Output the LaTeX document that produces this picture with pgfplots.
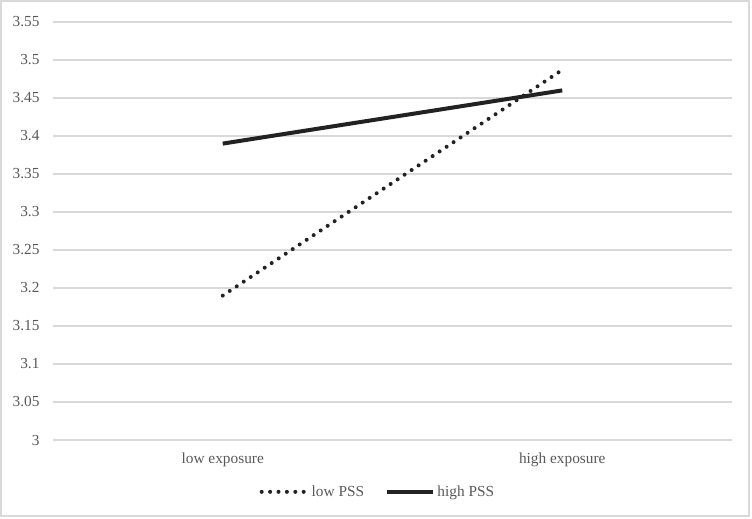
\documentclass[border=0pt]{standalone}
\usepackage{pgfplots}
\pgfplotsset{compat=1.18}
\usepackage{fontspec}
\setmainfont{Liberation Serif}
\definecolor{gridgray}{HTML}{D9D9D9}
\definecolor{tickgray}{HTML}{595959}
\definecolor{linedark}{HTML}{222222}
\begin{document}
\begin{tikzpicture}
\begin{axis}[
  at={(0pt,0pt)}, anchor=south west,
  scale only axis,
  width=509.25pt, height=313.5pt,
  xmin=-0.5, xmax=1.5,
  ymin=3, ymax=3.55,
  xtick={0,1},
  xticklabels={low exposure,high exposure},
  ytick={3,3.05,3.1,3.15,3.2,3.25,3.3,3.35,3.4,3.45,3.5,3.55},
  yticklabels={3,3.05,3.1,3.15,3.2,3.25,3.3,3.35,3.4,3.45,3.5,3.55},
  axis line style={draw=none},
  major tick length=0pt,
  ymajorgrids,
  grid style={color=gridgray, line width=1pt},
  tick label style={font=\fontsize{11.5}{13.8}\selectfont, text=tickgray},
  yticklabel style={anchor=east, xshift=-6.6pt},
  xticklabel style={anchor=north, yshift=-6pt},
  legend style={at={(0.479,-0.124)}, anchor=center, draw=none, fill=none,
    legend columns=2, font=\fontsize{11.5}{13.8}\selectfont, text=tickgray,
    /tikz/every even column/.append style={column sep=14pt}},
  legend image code/.code={\draw[#1] (0pt,0pt) -- (34pt,0pt);},
]
\addplot[color=linedark, line width=3pt, line cap=round, dash pattern=on 0pt off 6.3pt] coordinates {(0,3.19) (1,3.487)};
\addlegendentry{low PSS}
\addplot[color=linedark, line width=3pt] coordinates {(0,3.39) (1,3.46)};
\addlegendentry{high PSS}
\end{axis}
\draw[color=gridgray, line width=1pt] (-52*0.75pt,-76*0.75pt) rectangle (696*0.75pt,439*0.75pt);
\useasboundingbox (-53*0.75pt,-78*0.75pt) rectangle (699*0.75pt,440*0.75pt);
\end{tikzpicture}
\end{document}
